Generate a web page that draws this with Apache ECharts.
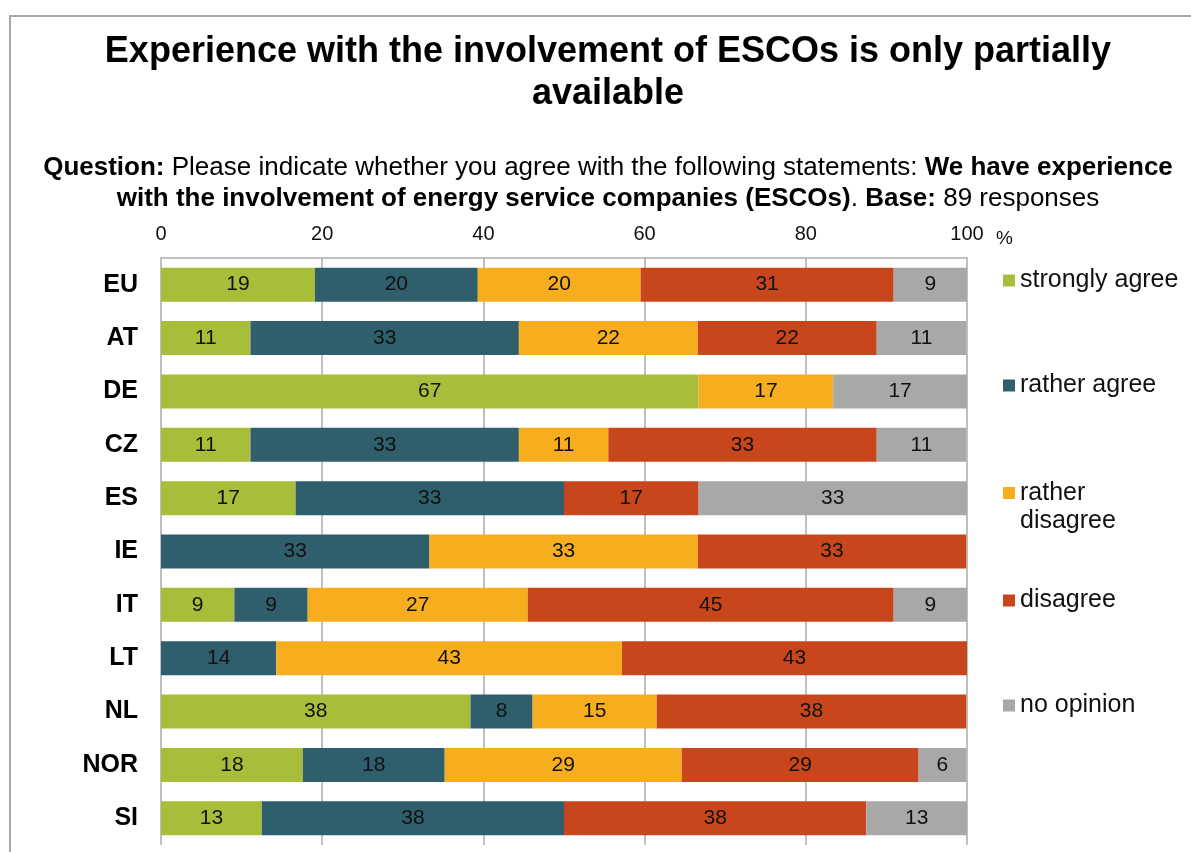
<!DOCTYPE html>
<html>
<head>
<meta charset="utf-8">
<script src="https://cdn.jsdelivr.net/npm/echarts@6/dist/echarts.min.js"></script>
<style>
html,body{margin:0;padding:0;background:#fff;}
#chart{width:1191px;height:852px;}
</style>
</head>
<body>
<div id="chart"></div>
<script>
// ---- data ----
const categories = ['EU', 'AT', 'DE', 'CZ', 'ES', 'IE', 'IT', 'LT', 'NL', 'NOR', 'SI'];
const seriesNames = ['strongly agree', 'rather agree', 'rather disagree', 'disagree', 'no opinion'];
const stronglyAgree  = [19.1, 11.1, 66.7, 11.1, 16.7, 0,    9.1,  0,    38.4, 17.6, 12.5];
const ratherAgree    = [20.2, 33.3, 0,    33.3, 33.3, 33.3, 9.1,  14.3, 7.7,  17.6, 37.5];
const ratherDisagree = [20.2, 22.2, 16.7, 11.1, 0,    33.3, 27.3, 42.9, 15.4, 29.4, 0];
const disagree       = [31.4, 22.2, 0,    33.3, 16.7, 33.3, 45.4, 42.8, 38.4, 29.4, 37.5];
const noOpinion      = [9.1,  11.1, 16.7, 11.1, 33.3, 0,    9.1,  0,    0,    5.9,  12.5];
const xTicks = [0, 20, 40, 60, 80, 100];

const colors = ['#a8bd3a', '#2f5f6c', '#f6ae1f', '#c8461b', '#a8a8a8'];
const allData = [stronglyAgree, ratherAgree, ratherDisagree, disagree, noOpinion];

const FONT = '"Liberation Sans", Arial, sans-serif';

const chart = echarts.init(document.getElementById('chart'), null, {renderer: 'canvas'});

const series = seriesNames.map((name, i) => ({
  name: name,
  type: 'bar',
  stack: 'total',
  barWidth: 34,
  data: allData[i],
  itemStyle: {color: colors[i]},
  label: {
    show: true,
    position: 'inside',
    color: '#111',
    fontFamily: FONT,
    fontSize: 21,
    formatter: p => (p.value > 0 ? String(Math.round(p.value)) : '')
  },
  emphasis: {disabled: true}
}));

const legendTops = [268, 373, 479, 588, 693];
const legends = seriesNames.map((name, i) => {
  const lg = {
    data: [name],
    orient: 'vertical',
    left: 1003,
    top: legendTops[i],
    padding: 0,
    itemWidth: 12,
    itemHeight: 12,
    icon: 'rect',
    selectedMode: false,
    textStyle: {fontFamily: FONT, fontSize: 25, color: '#111', lineHeight: 24},
    itemGap: 0
  };
  if (name === 'rather disagree') {
    lg.formatter = () => 'rather\ndisagree';
    lg.textStyle = {fontFamily: FONT, fontSize: 25, color: '#111', lineHeight: 28};
    lg.itemHeight = 40;
    lg.icon = 'path://M0,0L12,0L12,12L0,12Z M0,40L12,40';
  }
  return lg;
});

const option = {
  animation: false,
  backgroundColor: '#ffffff',
  color: colors,
  title: [
    {
      text: 'Experience with the involvement of ESCOs is only partially\navailable',
      left: 608,
      textAlign: 'center',
      top: 31,
      padding: 0,
      textStyle: {fontFamily: FONT, fontSize: 36, fontWeight: 'bold', color: '#000', lineHeight: 42}
    },
    {
      text: '{b|Question:} {n|Please indicate whether you agree with the following statements:} {b|We have experience}\n{b|with the involvement of energy service companies (ESCOs)}{n|.} {b|Base:}{n| 89 responses}',
      left: 608,
      textAlign: 'center',
      top: 152,
      padding: 0,
      textStyle: {
        fontFamily: FONT, fontSize: 26, color: '#000', lineHeight: 31,
        rich: {
          b: {fontFamily: FONT, fontSize: 26, fontWeight: 'bold', color: '#000', lineHeight: 31},
          n: {fontFamily: FONT, fontSize: 26, fontWeight: 'normal', color: '#000', lineHeight: 31}
        }
      }
    }
  ],
  legend: legends,
  grid: {left: 161, right: 224, top: 258, bottom: 7, containLabel: false},
  xAxis: {
    type: 'value',
    position: 'top',
    min: 0,
    max: 100,
    interval: 20,
    name: '%',
    nameLocation: 'end',
    nameGap: 29,
    nameTextStyle: {fontFamily: FONT, fontSize: 19, color: '#111', verticalAlign: 'bottom', padding: [0, 0, 10, 0]},
    axisLine: {show: true, lineStyle: {color: '#aaaaaa', width: 1.5}},
    axisTick: {show: false},
    axisLabel: {
      fontFamily: FONT, fontSize: 20, color: '#111', margin: 14,
      formatter: v => (xTicks.indexOf(v) >= 0 ? String(v) : '')
    },
    splitLine: {show: true, lineStyle: {color: '#aaaaaa', width: 1.5}}
  },
  yAxis: {
    type: 'category',
    inverse: true,
    data: categories,
    axisLine: {show: false},
    axisTick: {show: false},
    axisLabel: {fontFamily: FONT, fontSize: 25, fontWeight: 'bold', color: '#000', margin: 23}
  },
  graphic: [
    {
      type: 'rect',
      silent: true,
      z: -10,
      shape: {x: 10, y: 16, width: 1300, height: 900},
      style: {fill: 'none', stroke: '#a8a8a8', lineWidth: 2}
    }
  ],
  series: series
};

chart.setOption(option);
</script>
</body>
</html>
